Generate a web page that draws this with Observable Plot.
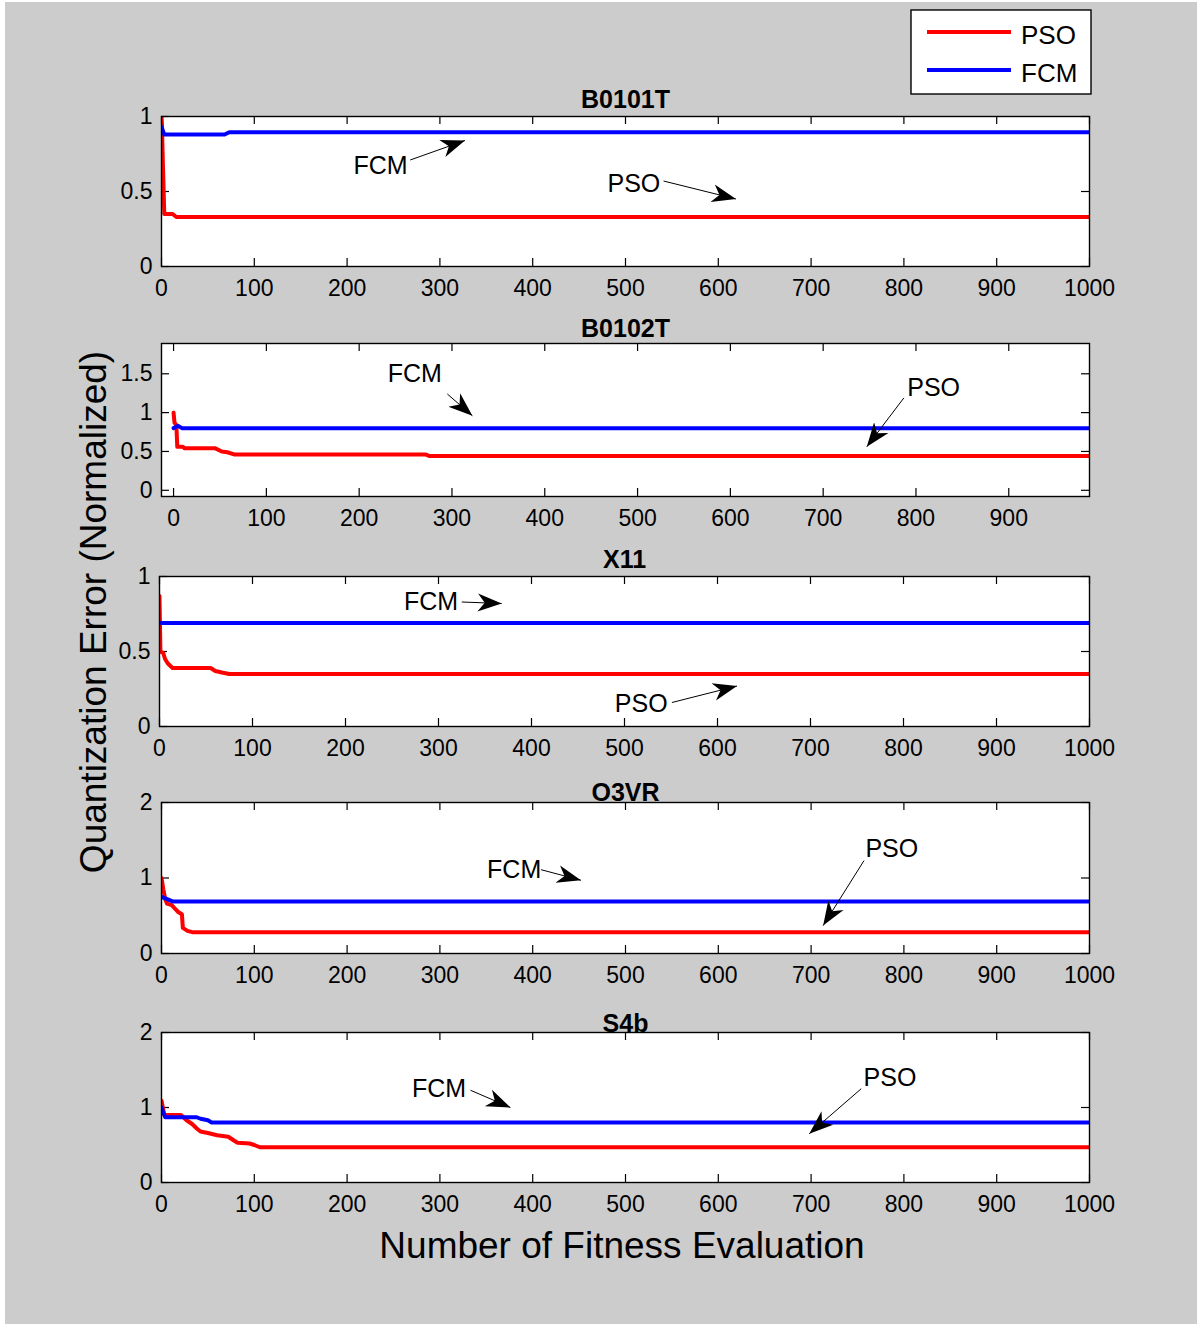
<!DOCTYPE html>
<html><head><meta charset="utf-8">
<script src="https://cdn.jsdelivr.net/npm/d3@7"></script>
<script src="https://cdn.jsdelivr.net/npm/@observablehq/plot@0.6"></script>
<style>
html,body{margin:0;padding:0;background:#fff;}
#fig{position:relative;width:1197px;height:1324px;overflow:hidden;font-family:"Liberation Sans",Arial,sans-serif;}
#bg{position:absolute;left:5px;top:2px;right:0;bottom:0;background:#cccccc;}
.panel{position:absolute;left:0;}
#overlay{position:absolute;left:0;top:0;pointer-events:none;}
</style></head><body><div id="fig"><div id="bg"></div></div>
<script>
// ---------- data ----------
const titles = ["B0101T", "B0102T", "X11", "O3VR", "S4b"];
const seriesNames = ["PSO", "FCM"];
const xDomains = [[0, 1000], [-13, 987], [0, 1000], [0, 1000], [0, 1000]];
const yDomains = [[0, 1], [-0.08, 1.89], [0, 1], [0, 2], [0, 2]];
const xTicks = [
  [0, 100, 200, 300, 400, 500, 600, 700, 800, 900, 1000],
  [0, 100, 200, 300, 400, 500, 600, 700, 800, 900],
  [0, 100, 200, 300, 400, 500, 600, 700, 800, 900, 1000],
  [0, 100, 200, 300, 400, 500, 600, 700, 800, 900, 1000],
  [0, 100, 200, 300, 400, 500, 600, 700, 800, 900, 1000]
];
const yTicks = [[0, 0.5, 1], [0, 0.5, 1, 1.5], [0, 0.5, 1], [0, 1, 2], [0, 1, 2]];

const psoX = [
  [0, 0.5, 1, 3, 12, 16, 1000],
  [0, 1, 3, 4, 10, 12, 45, 52, 58, 66, 272, 276, 1000],
  [0, 1, 4, 6, 9, 14, 55, 60, 67, 75, 1000],
  [0, 2, 4, 6, 11, 14, 18, 22, 23, 28, 34, 1000],
  [0, 3, 21, 27, 33, 38, 42, 50, 60, 72, 78, 82, 95, 100, 106, 1000]
];
const psoY = [
  [1.0, 0.95, 0.8, 0.35, 0.35, 0.33, 0.33],
  [1.0, 0.87, 0.84, 0.56, 0.56, 0.54, 0.54, 0.5, 0.49, 0.46, 0.46, 0.44, 0.44],
  [0.87, 0.5, 0.49, 0.45, 0.42, 0.39, 0.39, 0.37, 0.36, 0.35, 0.35],
  [1.0, 0.85, 0.72, 0.66, 0.64, 0.6, 0.55, 0.52, 0.34, 0.3, 0.28, 0.28],
  [1.09, 0.9, 0.9, 0.83, 0.78, 0.72, 0.68, 0.66, 0.63, 0.61, 0.56, 0.53, 0.52, 0.5, 0.47, 0.47]
];
const fcmX = [
  [0, 3, 68, 73, 1000],
  [0, 5, 9, 1000],
  [0, 1000],
  [0, 6, 12, 1000],
  [0, 4, 38, 42, 50, 54, 1000]
];
const fcmY = [
  [0.93, 0.88, 0.88, 0.895, 0.895],
  [0.8, 0.83, 0.8, 0.8],
  [0.69, 0.69],
  [0.75, 0.72, 0.69, 0.69],
  [1.0, 0.87, 0.87, 0.85, 0.83, 0.8, 0.8]
];

// annotations (data units)
const annLabel = [["FCM", "PSO"], ["FCM", "PSO"], ["FCM", "PSO"], ["FCM", "PSO"], ["FCM", "PSO"]];
const annTextX = [[236, 509], [260, 819], [292, 518], [380, 787], [299, 785]];
const annTextY = [[0.67, 0.55], [1.5, 1.32], [0.83, 0.15], [1.11, 1.38], [1.25, 1.4]];
const annX1 = [[268, 541], [295, 787], [325, 551], [409, 757], [333, 754]];
const annY1 = [[0.71, 0.57], [1.24, 1.19], [0.83, 0.16], [1.11, 1.23], [1.23, 1.25]];
const annX2 = [[327, 619], [322, 747], [368, 621], [452, 713], [376, 698]];
const annY2 = [[0.84, 0.45], [0.96, 0.56], [0.82, 0.27], [0.97, 0.37], [1.0, 0.65]];

const xLabel = "Number of Fitness Evaluation";
const yLabel = "Quantization Error (Normalized)";

// ---------- layout ----------
const W = 1197;
const boxTop = [116, 343, 576, 802, 1032];
const boxBottom = [266, 496, 726, 953, 1182];
const boxLeft = [161, 161, 159, 161, 161];
const boxRight = 1089;
const titleGap = [9, 7, 9, 2, 1];
const MT = 45, MB = 50, TICK = 8;
const colors = {PSO: "#ff0000", FCM: "#0000ff"};

const fig = document.getElementById("fig");

titles.forEach((title, i) => {
  const h = boxBottom[i] - boxTop[i];
  const pw = boxRight - boxLeft[i];
  const pso = psoX[i].map((x, j) => ({x, y: psoY[i][j]}));
  const fcm = fcmX[i].map((x, j) => ({x, y: fcmY[i][j]}));
  const ann = annLabel[i].map((label, j) => ({
    label, tx: annTextX[i][j], ty: annTextY[i][j],
    x1: annX1[i][j], y1: annY1[i][j], x2: annX2[i][j], y2: annY2[i][j]
  }));
  const plot = Plot.plot({
    width: W,
    height: h + MT + MB,
    marginTop: MT,
    marginBottom: MB,
    marginLeft: boxLeft[i],
    marginRight: W - boxRight,
    style: {background: "transparent", fontFamily: "'Liberation Sans', Arial, sans-serif", fontSize: "23px", overflow: "visible", color: "black"},
    x: {domain: xDomains[i]},
    y: {domain: yDomains[i]},
    marks: [
      Plot.frame({fill: "white"}),
      Plot.axisX({ticks: xTicks[i], tickSize: 0, tickPadding: 13, label: null, fontSize: 23, tickFormat: d => String(d)}),
      Plot.axisY({ticks: yTicks[i], tickSize: 0, tickPadding: 9, label: null, fontSize: 23, tickFormat: d => String(d)}),
      Plot.tickX(xTicks[i], {x: d => d, insetTop: h - TICK, stroke: "black", strokeWidth: 1.2}),
      Plot.tickX(xTicks[i], {x: d => d, insetBottom: h - TICK, stroke: "black", strokeWidth: 1.2}),
      Plot.tickY(yTicks[i], {y: d => d, insetRight: pw - TICK, stroke: "black", strokeWidth: 1.2}),
      Plot.tickY(yTicks[i], {y: d => d, insetLeft: pw - TICK, stroke: "black", strokeWidth: 1.2}),
      Plot.line(pso, {x: "x", y: "y", stroke: colors.PSO, strokeWidth: 4, clip: true}),
      Plot.line(fcm, {x: "x", y: "y", stroke: colors.FCM, strokeWidth: 4, clip: true}),
      Plot.link(ann, {x1: "x1", y1: "y1", x2: "x2", y2: "y2", stroke: "black", strokeWidth: 1, markerEnd: "arrow"}),
      Plot.text(ann, {x: "tx", y: "ty", text: "label", fontSize: 25, fill: "black"}),
      Plot.text([title], {frameAnchor: "top", text: d => d, dy: -titleGap[i], lineAnchor: "bottom", fontWeight: "bold", fontSize: 25, fill: "black"}),
      Plot.frame({stroke: "black", strokeWidth: 1.4})
    ]
  });
  // filled MATLAB-like arrowheads
  plot.querySelectorAll("marker").forEach(m => {
    m.setAttribute("viewBox", "-24 -12 24 24");
    m.setAttribute("markerWidth", "24");
    m.setAttribute("markerHeight", "24");
    m.setAttribute("markerUnits", "userSpaceOnUse");
    m.setAttribute("fill", "black");
    m.setAttribute("stroke", "none");
    m.innerHTML = '<path d="M0,0L-24,-9L-17,0L-24,9Z"></path>';
  });
  plot.classList.add("panel");
  plot.style.position = "absolute";
  plot.style.left = "0px";
  plot.style.top = (boxTop[i] - MT) + "px";
  fig.appendChild(plot);
});

// overlay: axis labels and legend
const ov = d3.select(fig).append("svg")
  .attr("id", "overlay").attr("width", W).attr("height", 1324)
  .style("font-family", "'Liberation Sans', Arial, sans-serif");

ov.append("text").attr("x", 622).attr("y", 1258).attr("text-anchor", "middle")
  .attr("font-size", 37).attr("fill", "black").text(xLabel);
ov.append("text").attr("transform", "translate(106,612) rotate(-90)").attr("text-anchor", "middle")
  .attr("font-size", 37).attr("fill", "black").text(yLabel);

const lg = ov.append("g");
lg.append("rect").attr("x", 911).attr("y", 10).attr("width", 180).attr("height", 84)
  .attr("fill", "white").attr("stroke", "black").attr("stroke-width", 1.4);
seriesNames.forEach((name, k) => {
  const ly = [32, 70][k];
  lg.append("line").attr("x1", 927).attr("x2", 1011).attr("y1", ly).attr("y2", ly)
    .attr("stroke", colors[name]).attr("stroke-width", 4);
  lg.append("text").attr("x", 1021).attr("y", ly + 12).attr("font-size", 26)
    .attr("fill", "black").text(name);
});
</script></body></html>
